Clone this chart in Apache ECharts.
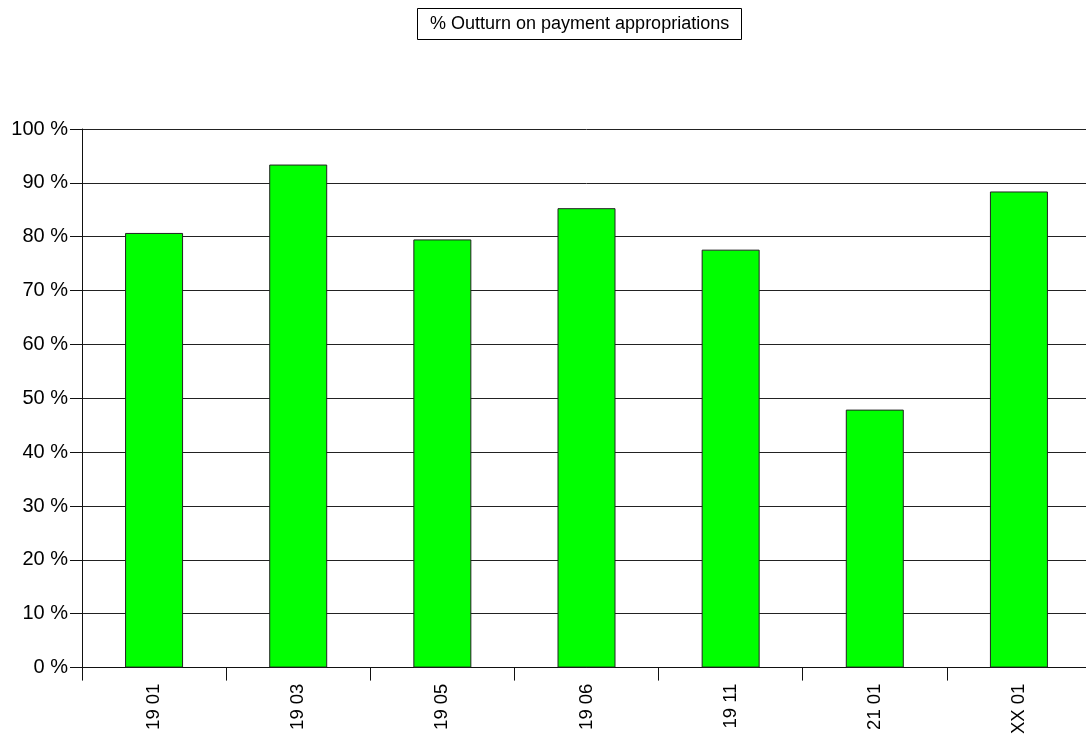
<!DOCTYPE html>
<html>
<head>
<meta charset="utf-8">
<title>% Outturn on payment appropriations</title>
<script src="https://cdn.jsdelivr.net/npm/echarts@6/dist/echarts.min.js"></script>
<style>
  html, body { margin: 0; padding: 0; background: #fff; overflow: hidden; }
  /* a bit wider than the window: the plot area runs past the right edge in the original */
  #main { width: 1092px; height: 737px; }
</style>
</head>
<body>
<div id="main"></div>
<script>
// data
var categories = ['19 01', '19 03', '19 05', '19 06', '19 11', '21 01', 'XX 01'];
var outturn = [80.7, 93.4, 79.5, 85.3, 77.6, 47.9, 88.4];
var titleText = '% Outturn on payment appropriations';

var chart = echarts.init(document.getElementById('main'));
var font = 'Liberation Sans, Arial, sans-serif';

var option = {
  animation: false,
  backgroundColor: '#fff',
  title: {
    text: titleText,
    left: 417,
    top: 8,
    borderColor: '#000',
    borderWidth: 1,
    padding: [7, 13],
    textStyle: { fontFamily: font, fontSize: 18, fontWeight: 'normal', color: '#000' }
  },
  grid: { left: 82, top: 129, right: 1, bottom: 69, containLabel: false },
  xAxis: {
    type: 'category',
    data: categories,
    axisLine: { lineStyle: { color: '#111', width: 1 } },
    axisTick: { show: true, length: 13, alignWithLabel: false, lineStyle: { color: '#111' } },
    axisLabel: { rotate: 90, margin: 16, fontFamily: font, fontSize: 18.5, color: '#000' },
    splitLine: { show: false }
  },
  yAxis: {
    type: 'value',
    min: 0,
    max: 100,
    interval: 10,
    axisLine: { show: true, lineStyle: { color: '#111', width: 1 } },
    axisTick: { show: true, length: 12, lineStyle: { color: '#111' } },
    axisLabel: { formatter: '{value} %', margin: 14, fontFamily: font, fontSize: 20, color: '#000' },
    splitLine: { show: true, lineStyle: { color: '#222', width: 1 } }
  },
  series: [{
    type: 'bar',
    data: outturn,
    barWidth: 58,
    itemStyle: { color: '#00ff00', borderColor: '#222', borderWidth: 1 }
  }]
};

chart.setOption(option);
</script>
</body>
</html>
